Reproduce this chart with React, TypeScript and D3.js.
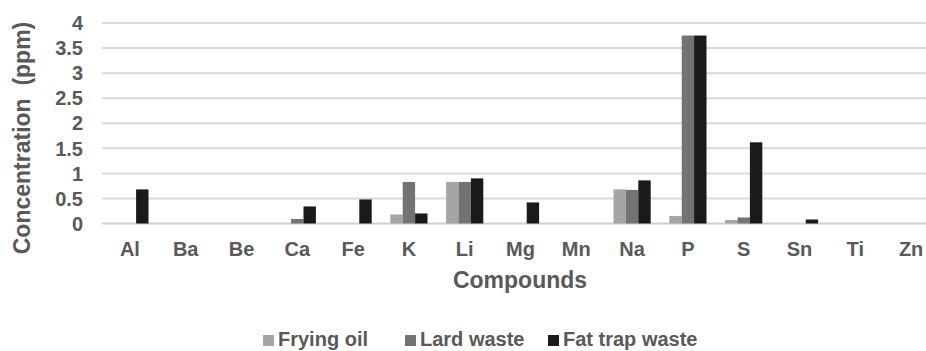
import React from "react";
import * as d3 from "d3";

const categories = ["Al", "Ba", "Be", "Ca", "Fe", "K", "Li", "Mg", "Mn", "Na", "P", "S", "Sn", "Ti", "Zn"];
const seriesNames = ["Frying oil", "Lard waste", "Fat trap waste"];
const fryingOil = [0, 0, 0, 0, 0, 0.18, 0.83, 0, 0, 0.68, 0.15, 0.07, 0, 0, 0];
const lardWaste = [0, 0, 0, 0.09, 0, 0.83, 0.83, 0, 0, 0.67, 3.75, 0.12, 0, 0, 0];
const fatTrapWaste = [0.68, 0, 0, 0.34, 0.48, 0.2, 0.9, 0.42, 0, 0.86, 3.75, 1.62, 0.08, 0, 0];
const yTicks = [0, 0.5, 1, 1.5, 2, 2.5, 3, 3.5, 4];

const seriesValues = [fryingOil, lardWaste, fatTrapWaste];
const colors = ["#a5a5a5", "#737373", "#1a1a1a"];
const textColor = "#595959";
const font = "'Liberation Sans', Arial, sans-serif";

export default function App() {
  const W = 926;
  const H = 351;
  const left = 102;
  const bandW = 55.8;
  const x = d3
    .scaleBand<string>()
    .domain(categories)
    .range([left, left + bandW * categories.length])
    .padding(0);
  const groupW = (x.bandwidth() * 2) / 3;
  const xs = d3.scaleBand<string>().domain(seriesNames).range([0, groupW]).padding(0);
  const y = d3.scaleLinear().domain([0, 4]).range([223.5, 23]);

  return (
    <svg
      width={W}
      height={H}
      style={{ position: "absolute", left: 0, top: 0, background: "#fff" }}
      fontFamily={font}
      fontWeight="bold"
    >
      <rect width={W} height={H} fill="#fff" />
      {yTicks.map((t) => (
        <g key={t}>
          <line
            x1={left}
            x2={W}
            y1={y(t)}
            y2={y(t)}
            stroke={t === 0 ? "#d0d0d0" : "#d9d9d9"}
            strokeWidth={2}
          />
          <text x={83} y={y(t)} dy="0.36em" textAnchor="end" fontSize={20} fill={textColor}>
            {t}
          </text>
        </g>
      ))}
      {categories.map((c, i) => (
        <g key={c}>
          {seriesNames.map((s, j) => {
            const v = seriesValues[j][i];
            if (v <= 0) return null;
            const bx = (x(c) as number) + (x.bandwidth() - groupW) / 2 + (xs(s) as number);
            return (
              <rect
                key={s}
                x={bx}
                y={y(v)}
                width={xs.bandwidth()}
                height={y(0) - y(v)}
                fill={colors[j]}
              />
            );
          })}
          <text
            x={(x(c) as number) + x.bandwidth() / 2}
            y={256}
            textAnchor="middle"
            fontSize={20}
            fill={textColor}
          >
            {c}
          </text>
        </g>
      ))}
      <text x={520} y={288} textAnchor="middle" fontSize={23} fill={textColor}>
        Compounds
      </text>
      <text
        transform={`translate(30, 138) rotate(-90)`}
        textAnchor="middle"
        fontSize={23}
        fill={textColor}
        style={{ whiteSpace: "pre" }}
      >
        {"Concentration  (ppm)"}
      </text>
      {seriesNames.map((s, j) => {
        const lx = [263, 405, 548][j];
        return (
          <g key={s}>
            <rect x={lx} y={335} width={11} height={11} fill={colors[j]} />
            <text x={lx + 15} y={346} fontSize={20} fill={textColor}>
              {s}
            </text>
          </g>
        );
      })}
    </svg>
  );
}
